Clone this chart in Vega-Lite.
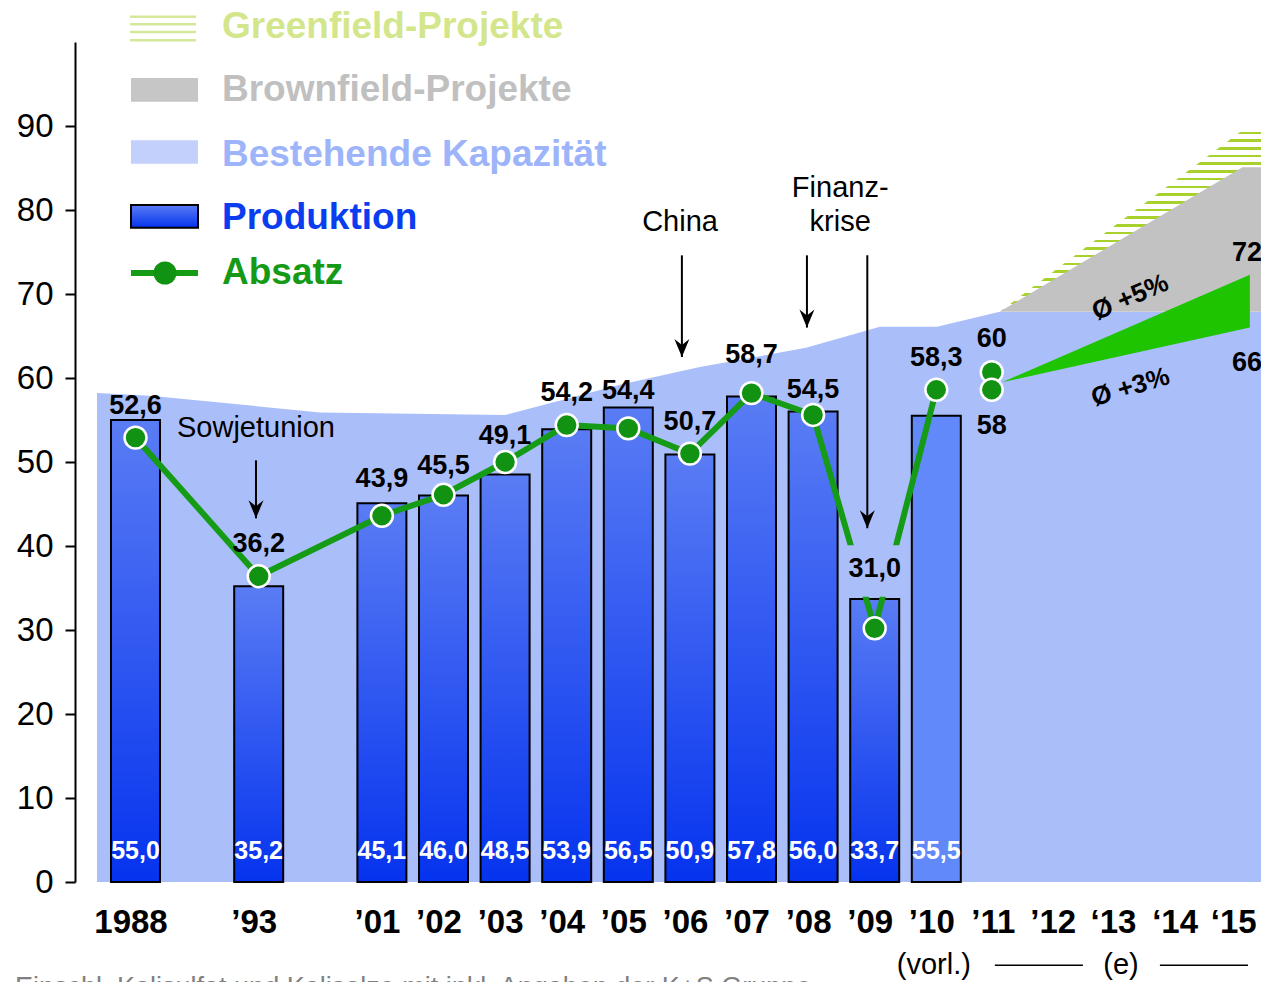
{
  "$schema": "https://vega.github.io/schema/vega-lite/v6.json",
  "autosize": {"type": "none"},
  "width": 1186,
  "height": 840,
  "padding": {"left": 75, "top": 42, "right": 0, "bottom": 100},
  "background": "white",
  "config": {"view": {"stroke": null}, "font": "Liberation Sans", "text": {"font": "Liberation Sans"}},
  "datasets": {
    "kapazitaet": [
      {"idx": -0.625, "kap": 58.2}, {"idx": 0.235, "kap": 57.9}, {"idx": 2.995, "kap": 55.9},
      {"idx": 6.0, "kap": 55.6}, {"idx": 7.865, "kap": 59.2}, {"idx": 9.16, "kap": 61.3},
      {"idx": 10.885, "kap": 63.6}, {"idx": 12.085, "kap": 66.1}, {"idx": 13.01, "kap": 66.1},
      {"idx": 14.03, "kap": 67.9}, {"idx": 18.5, "kap": 67.9}
    ],
    "ausbau": [
      {"idx": 14.03, "basis": 67.9, "brownfield": 67.9, "greenfield": 67.9},
      {"idx": 17.97, "basis": 67.9, "brownfield": 85.1, "greenfield": 89.5},
      {"idx": 18.5, "basis": 67.9, "brownfield": 85.1, "greenfield": 89.5}
    ],
    "jahre": [
      {"idx": 0, "jahr": "1988", "produktion": 55.0, "prodText": "55,0", "absatz": 52.6, "absText": "52,6", "punkt": 52.9},
      {"idx": 2, "jahr": "’93", "produktion": 35.2, "prodText": "35,2", "absatz": 36.2, "absText": "36,2", "punkt": 36.4},
      {"idx": 4, "jahr": "’01", "produktion": 45.1, "prodText": "45,1", "absatz": 43.9, "absText": "43,9", "punkt": 43.6},
      {"idx": 5, "jahr": "’02", "produktion": 46.0, "prodText": "46,0", "absatz": 45.5, "absText": "45,5", "punkt": 46.1},
      {"idx": 6, "jahr": "’03", "produktion": 48.5, "prodText": "48,5", "absatz": 49.1, "absText": "49,1", "punkt": 50.0},
      {"idx": 7, "jahr": "’04", "produktion": 53.9, "prodText": "53,9", "absatz": 54.2, "absText": "54,2", "punkt": 54.4},
      {"idx": 8, "jahr": "’05", "produktion": 56.5, "prodText": "56,5", "absatz": 54.4, "absText": "54,4", "punkt": 54.0},
      {"idx": 9, "jahr": "’06", "produktion": 50.9, "prodText": "50,9", "absatz": 50.7, "absText": "50,7", "punkt": 51.0},
      {"idx": 10, "jahr": "’07", "produktion": 57.8, "prodText": "57,8", "absatz": 58.7, "absText": "58,7", "punkt": 58.2},
      {"idx": 11, "jahr": "’08", "produktion": 56.0, "prodText": "56,0", "absatz": 54.5, "absText": "54,5", "punkt": 55.6},
      {"idx": 12, "jahr": "’09", "produktion": 33.7, "prodText": "33,7", "absatz": 31.0, "absText": "31,0", "punkt": 30.2},
      {"idx": 13, "jahr": "’10", "produktion": 55.5, "prodText": "55,5", "absatz": 58.3, "absText": "58,3", "punkt": 58.6}
    ],
    "prognose": [
      {"idx": 13.9, "jahr": "’11", "absatz": 60, "absText": "60", "punkt": 60.7},
      {"idx": 13.9, "jahr": "’11", "absatz": 58, "absText": "58", "punkt": 58.6}
    ],
    "trend": [
      {"idx": 14.07, "unten": 59.5, "oben": 59.5},
      {"idx": 18.09, "unten": 66.0, "oben": 72.3}
    ],
    "trendText": [
      {"idx": 17.8, "wert": 72, "text": "72"},
      {"idx": 17.8, "wert": 66, "text": "66"}
    ],
    "wachstum": [
      {"idx": 16.15, "y": 69.6, "text": "Ø +5%"},
      {"idx": 16.15, "y": 58.9, "text": "Ø +3%"}
    ],
    "pfeile": [
      {"idx": 1.956, "von": 50.2, "bis": 43.3},
      {"idx": 8.87, "von": 74.6, "bis": 62.5},
      {"idx": 10.9, "von": 74.6, "bis": 66.0},
      {"idx": 11.88, "von": 74.6, "bis": 42.1}
    ],
    "notizen": [
      {"idx": 1.956, "y": 54.0, "text": "Sowjetunion"},
      {"idx": 8.84, "y": 78.6, "text": "China"},
      {"idx": 11.44, "y": 82.6, "text": "Finanz-"},
      {"idx": 11.44, "y": 78.6, "text": "krise"},
      {"idx": 12.96, "y": -9.9, "text": "(vorl.)"},
      {"idx": 15.998, "y": -9.9, "text": "(e)"}
    ],
    "striche": [
      {"idx": 13.95, "idx2": 15.38, "y": -9.9},
      {"idx": 16.63, "idx2": 18.06, "y": -9.9}
    ],
    "box": [
      {"idx": 11.44, "unten": 33.95, "oben": 40.1},
      {"idx": 12.46, "unten": 33.95, "oben": 40.1}
    ],
    "legendeText": [
      {"eintrag": "Greenfield-Projekte", "idx": 1.404, "y": 101.8},
      {"eintrag": "Brownfield-Projekte", "idx": 1.404, "y": 94.3},
      {"eintrag": "Bestehende Kapazität", "idx": 1.404, "y": 86.5},
      {"eintrag": "Produktion", "idx": 1.404, "y": 79.0},
      {"eintrag": "Absatz", "idx": 1.404, "y": 72.5}
    ],
    "legendeFlaechen": [
      {"eintrag": "Brownfield-Projekte", "idx": -0.073, "idx2": 1.015, "unten": 92.9, "oben": 95.7},
      {"eintrag": "Bestehende Kapazität", "idx": -0.073, "idx2": 1.015, "unten": 85.5, "oben": 88.3},
      {"eintrag": "Produktion", "idx": -0.073, "idx2": 1.015, "unten": 77.9, "oben": 80.6}
    ],
    "legendeStreifen": [
      {"idx": -0.089, "idx2": 0.982, "y": 103.0},
      {"idx": -0.089, "idx2": 0.982, "y": 102.1},
      {"idx": -0.089, "idx2": 0.982, "y": 101.2},
      {"idx": -0.089, "idx2": 0.982, "y": 100.2}
    ],
    "legendeAbsatz": [{"idx": -0.073, "idx2": 1.015, "mitte": 0.479, "y": 72.5}],
    "quelle": [{"idx": -1.956, "y": -13.6, "text": "Einschl. Kalisulfat und Kalisalze mit  inkl. Angaben der K+S Gruppe"}]
  },
  "layer": [
    {
      "data": {"name": "kapazitaet"},
      "mark": {"type": "area", "fill": "#aabffa", "fillOpacity": 1, "opacity": 1},
      "encoding": {
        "x": {"field": "idx", "type": "quantitative", "scale": {"domain": [-0.982, 18.271], "nice": false, "zero": false, "padding": 0},
          "axis": {"values": [0, 2, 4, 5, 6, 7, 8, 9, 10, 11, 12, 13, 14, 14.97, 15.95, 16.95, 17.9],
            "labelExpr": "['1988','','’93','','’01','’02','’03','’04','’05','’06','’07','’08','’09','’10','’11','’12','‘13','‘14','‘15'][round(datum.value)]",
            "domain": false, "ticks": false, "grid": false, "title": null, "labelFont": "Liberation Sans",
            "labelFontSize": 33, "labelFontWeight": "bold", "labelColor": "#000", "labelPadding": 24,
            "labelOffset": -5, "labelFlush": false, "labelOverlap": false, "zindex": 1}},
        "y": {"field": "kap", "type": "quantitative", "scale": {"domain": [0, 100], "nice": false, "zero": false, "padding": 0},
          "axis": {"values": [0, 10, 20, 30, 40, 50, 60, 70, 80, 90], "grid": false, "title": null,
            "domainColor": "#000", "domainWidth": 2, "tickColor": "#000", "tickWidth": 2, "tickSize": 10,
            "labelFont": "Liberation Sans", "labelFontSize": 33, "labelColor": "#000", "labelPadding": 12, "zindex": 1}}
      }
    },
    {
      "data": {"name": "ausbau"},
      "mark": {"type": "area", "fill": {"gradient": "linear", "x1": 0, "y1": 0, "x2": 0, "y2": 1, "stops": [
        {"offset": 0, "color": "#ffffff"},
        {"offset": 0.008, "color": "#ffffff"}, {"offset": 0.008, "color": "#a9d12b"}, {"offset": 0.0217, "color": "#a9d12b"}, {"offset": 0.0217, "color": "#ffffff"},
        {"offset": 0.0504, "color": "#ffffff"}, {"offset": 0.0504, "color": "#a9d12b"}, {"offset": 0.0642, "color": "#a9d12b"}, {"offset": 0.0642, "color": "#ffffff"},
        {"offset": 0.0929, "color": "#ffffff"}, {"offset": 0.0929, "color": "#a9d12b"}, {"offset": 0.1066, "color": "#a9d12b"}, {"offset": 0.1066, "color": "#ffffff"},
        {"offset": 0.1354, "color": "#ffffff"}, {"offset": 0.1354, "color": "#a9d12b"}, {"offset": 0.1491, "color": "#a9d12b"}, {"offset": 0.1491, "color": "#ffffff"},
        {"offset": 0.1779, "color": "#ffffff"}, {"offset": 0.1779, "color": "#a9d12b"}, {"offset": 0.1916, "color": "#a9d12b"}, {"offset": 0.1916, "color": "#ffffff"},
        {"offset": 0.2203, "color": "#ffffff"}, {"offset": 0.2203, "color": "#a9d12b"}, {"offset": 0.2341, "color": "#a9d12b"}, {"offset": 0.2341, "color": "#ffffff"},
        {"offset": 0.2628, "color": "#ffffff"}, {"offset": 0.2628, "color": "#a9d12b"}, {"offset": 0.2765, "color": "#a9d12b"}, {"offset": 0.2765, "color": "#ffffff"},
        {"offset": 0.3053, "color": "#ffffff"}, {"offset": 0.3053, "color": "#a9d12b"}, {"offset": 0.319, "color": "#a9d12b"}, {"offset": 0.319, "color": "#ffffff"},
        {"offset": 0.3477, "color": "#ffffff"}, {"offset": 0.3477, "color": "#a9d12b"}, {"offset": 0.3615, "color": "#a9d12b"}, {"offset": 0.3615, "color": "#ffffff"},
        {"offset": 0.3902, "color": "#ffffff"}, {"offset": 0.3902, "color": "#a9d12b"}, {"offset": 0.404, "color": "#a9d12b"}, {"offset": 0.404, "color": "#ffffff"},
        {"offset": 0.4327, "color": "#ffffff"}, {"offset": 0.4327, "color": "#a9d12b"}, {"offset": 0.4464, "color": "#a9d12b"}, {"offset": 0.4464, "color": "#ffffff"},
        {"offset": 0.4752, "color": "#ffffff"}, {"offset": 0.4752, "color": "#a9d12b"}, {"offset": 0.4889, "color": "#a9d12b"}, {"offset": 0.4889, "color": "#ffffff"},
        {"offset": 0.5176, "color": "#ffffff"}, {"offset": 0.5176, "color": "#a9d12b"}, {"offset": 0.5314, "color": "#a9d12b"}, {"offset": 0.5314, "color": "#ffffff"},
        {"offset": 0.5601, "color": "#ffffff"}, {"offset": 0.5601, "color": "#a9d12b"}, {"offset": 0.5738, "color": "#a9d12b"}, {"offset": 0.5738, "color": "#ffffff"},
        {"offset": 0.6026, "color": "#ffffff"}, {"offset": 0.6026, "color": "#a9d12b"}, {"offset": 0.6163, "color": "#a9d12b"}, {"offset": 0.6163, "color": "#ffffff"},
        {"offset": 0.6451, "color": "#ffffff"}, {"offset": 0.6451, "color": "#a9d12b"}, {"offset": 0.6588, "color": "#a9d12b"}, {"offset": 0.6588, "color": "#ffffff"},
        {"offset": 0.6875, "color": "#ffffff"}, {"offset": 0.6875, "color": "#a9d12b"}, {"offset": 0.7013, "color": "#a9d12b"}, {"offset": 0.7013, "color": "#ffffff"},
        {"offset": 0.73, "color": "#ffffff"}, {"offset": 0.73, "color": "#a9d12b"}, {"offset": 0.7437, "color": "#a9d12b"}, {"offset": 0.7437, "color": "#ffffff"},
        {"offset": 0.7725, "color": "#ffffff"}, {"offset": 0.7725, "color": "#a9d12b"}, {"offset": 0.7862, "color": "#a9d12b"}, {"offset": 0.7862, "color": "#ffffff"},
        {"offset": 0.8149, "color": "#ffffff"}, {"offset": 0.8149, "color": "#a9d12b"}, {"offset": 0.8287, "color": "#a9d12b"}, {"offset": 0.8287, "color": "#ffffff"},
        {"offset": 0.8574, "color": "#ffffff"}, {"offset": 0.8574, "color": "#a9d12b"}, {"offset": 0.8712, "color": "#a9d12b"}, {"offset": 0.8712, "color": "#ffffff"},
        {"offset": 0.8999, "color": "#ffffff"}, {"offset": 0.8999, "color": "#a9d12b"}, {"offset": 0.9136, "color": "#a9d12b"}, {"offset": 0.9136, "color": "#ffffff"},
        {"offset": 0.9424, "color": "#ffffff"}, {"offset": 0.9424, "color": "#a9d12b"}, {"offset": 0.9561, "color": "#a9d12b"}, {"offset": 0.9561, "color": "#ffffff"},
        {"offset": 0.9848, "color": "#ffffff"}, {"offset": 0.9848, "color": "#a9d12b"}, {"offset": 0.9986, "color": "#a9d12b"}, {"offset": 0.9986, "color": "#ffffff"},
        {"offset": 1, "color": "#ffffff"}
      ]}},
      "encoding": {
        "x": {"field": "idx", "type": "quantitative", "scale": {"domain": [-0.982, 18.271], "nice": false, "zero": false, "padding": 0}, "axis": {"title": null}},
        "y": {"field": "basis", "type": "quantitative", "scale": {"domain": [0, 100], "nice": false, "zero": false, "padding": 0}, "axis": {"title": null}},
        "y2": {"field": "greenfield"}
      }
    },
    {
      "data": {"name": "ausbau"},
      "mark": {"type": "area", "fill": "#c2c2c2", "fillOpacity": 1, "opacity": 1},
      "encoding": {
        "x": {"field": "idx", "type": "quantitative", "scale": {"domain": [-0.982, 18.271], "nice": false, "zero": false, "padding": 0}, "axis": {"title": null}},
        "y": {"field": "basis", "type": "quantitative", "scale": {"domain": [0, 100], "nice": false, "zero": false, "padding": 0}, "axis": {"title": null}},
        "y2": {"field": "brownfield"}
      }
    },
    {
      "data": {"name": "trend"},
      "mark": {"type": "area", "fill": "#1ec400", "fillOpacity": 1, "opacity": 1},
      "encoding": {
        "x": {"field": "idx", "type": "quantitative", "scale": {"domain": [-0.982, 18.271], "nice": false, "zero": false, "padding": 0}, "axis": {"title": null}},
        "y": {"field": "unten", "type": "quantitative", "scale": {"domain": [0, 100], "nice": false, "zero": false, "padding": 0}, "axis": {"title": null}},
        "y2": {"field": "oben"}
      }
    },
    {
      "data": {"name": "jahre"},
      "transform": [{"filter": "datum.idx < 13"}],
      "mark": {"type": "bar", "orient": "vertical", "size": 49, "stroke": "#000", "strokeWidth": 2,
        "fill": {"gradient": "linear", "x1": 0, "y1": 0, "x2": 0, "y2": 1, "stops": [{"offset": 0, "color": "#5a7cf4"}, {"offset": 1, "color": "#0533ee"}]}},
      "encoding": {
        "x": {"field": "idx", "type": "quantitative", "scale": {"domain": [-0.982, 18.271], "nice": false, "zero": false, "padding": 0}, "axis": {"title": null}},
        "y": {"field": "produktion", "type": "quantitative", "scale": {"domain": [0, 100], "nice": false, "zero": false, "padding": 0}, "axis": {"title": null}}
      }
    },
    {
      "data": {"name": "jahre"},
      "transform": [{"filter": "datum.idx == 13"}],
      "mark": {"type": "bar", "orient": "vertical", "size": 49, "stroke": "#000", "strokeWidth": 2, "fill": "#6189fa"},
      "encoding": {
        "x": {"field": "idx", "type": "quantitative", "scale": {"domain": [-0.982, 18.271], "nice": false, "zero": false, "padding": 0}, "axis": {"title": null}},
        "y": {"field": "produktion", "type": "quantitative", "scale": {"domain": [0, 100], "nice": false, "zero": false, "padding": 0}, "axis": {"title": null}}
      }
    },
    {
      "data": {"name": "jahre"},
      "mark": {"type": "line", "color": "#159b15", "strokeWidth": 6},
      "encoding": {
        "x": {"field": "idx", "type": "quantitative", "scale": {"domain": [-0.982, 18.271], "nice": false, "zero": false, "padding": 0}, "axis": {"title": null}},
        "y": {"field": "punkt", "type": "quantitative", "scale": {"domain": [0, 100], "nice": false, "zero": false, "padding": 0}, "axis": {"title": null}}
      }
    },
    {
      "data": {"name": "box"},
      "mark": {"type": "area", "fill": "#aabffa", "fillOpacity": 1, "opacity": 1},
      "encoding": {
        "x": {"field": "idx", "type": "quantitative", "scale": {"domain": [-0.982, 18.271], "nice": false, "zero": false, "padding": 0}, "axis": {"title": null}},
        "y": {"field": "unten", "type": "quantitative", "scale": {"domain": [0, 100], "nice": false, "zero": false, "padding": 0}, "axis": {"title": null}},
        "y2": {"field": "oben"}
      }
    },
    {
      "data": {"name": "jahre"},
      "mark": {"type": "point", "filled": true, "fill": "#129212", "stroke": "#ffffff", "strokeWidth": 2.5, "size": 480, "opacity": 1},
      "encoding": {
        "x": {"field": "idx", "type": "quantitative", "scale": {"domain": [-0.982, 18.271], "nice": false, "zero": false, "padding": 0}, "axis": {"title": null}},
        "y": {"field": "punkt", "type": "quantitative", "scale": {"domain": [0, 100], "nice": false, "zero": false, "padding": 0}, "axis": {"title": null}}
      }
    },
    {
      "data": {"name": "prognose"},
      "mark": {"type": "point", "filled": true, "fill": "#129212", "stroke": "#ffffff", "strokeWidth": 2.5, "size": 480, "opacity": 1},
      "encoding": {
        "x": {"field": "idx", "type": "quantitative", "scale": {"domain": [-0.982, 18.271], "nice": false, "zero": false, "padding": 0}, "axis": {"title": null}},
        "y": {"field": "punkt", "type": "quantitative", "scale": {"domain": [0, 100], "nice": false, "zero": false, "padding": 0}, "axis": {"title": null}}
      }
    },
    {
      "data": {"name": "jahre"},
      "mark": {"type": "text", "color": "#ffffff", "fontSize": 25, "fontWeight": "bold", "align": "center", "baseline": "middle"},
      "encoding": {
        "x": {"field": "idx", "type": "quantitative", "scale": {"domain": [-0.982, 18.271], "nice": false, "zero": false, "padding": 0}, "axis": {"title": null}},
        "y": {"datum": 3.69, "type": "quantitative", "scale": {"domain": [0, 100], "nice": false, "zero": false, "padding": 0}, "axis": {"title": null}},
        "text": {"field": "prodText"}
      }
    },
    {
      "data": {"name": "jahre"},
      "transform": [{"filter": "datum.idx != 12"}],
      "mark": {"type": "text", "color": "#000", "fontSize": 27, "fontWeight": "bold", "align": "center", "baseline": "middle", "dy": -34},
      "encoding": {
        "x": {"field": "idx", "type": "quantitative", "scale": {"domain": [-0.982, 18.271], "nice": false, "zero": false, "padding": 0}, "axis": {"title": null}},
        "y": {"field": "absatz", "type": "quantitative", "scale": {"domain": [0, 100], "nice": false, "zero": false, "padding": 0}, "axis": {"title": null}},
        "text": {"field": "absText"}
      }
    },
    {
      "data": {"name": "jahre"},
      "transform": [{"filter": "datum.idx == 12"}],
      "mark": {"type": "text", "color": "#000", "fontSize": 27, "fontWeight": "bold", "align": "center", "baseline": "middle", "dy": -53},
      "encoding": {
        "x": {"field": "idx", "type": "quantitative", "scale": {"domain": [-0.982, 18.271], "nice": false, "zero": false, "padding": 0}, "axis": {"title": null}},
        "y": {"field": "absatz", "type": "quantitative", "scale": {"domain": [0, 100], "nice": false, "zero": false, "padding": 0}, "axis": {"title": null}},
        "text": {"field": "absText"}
      }
    },
    {
      "data": {"name": "prognose"},
      "transform": [{"filter": "datum.absatz == 60"}],
      "mark": {"type": "text", "color": "#000", "fontSize": 27, "fontWeight": "bold", "align": "center", "baseline": "middle", "dy": -39},
      "encoding": {
        "x": {"field": "idx", "type": "quantitative", "scale": {"domain": [-0.982, 18.271], "nice": false, "zero": false, "padding": 0}, "axis": {"title": null}},
        "y": {"field": "absatz", "type": "quantitative", "scale": {"domain": [0, 100], "nice": false, "zero": false, "padding": 0}, "axis": {"title": null}},
        "text": {"field": "absText"}
      }
    },
    {
      "data": {"name": "prognose"},
      "transform": [{"filter": "datum.absatz == 58"}],
      "mark": {"type": "text", "color": "#000", "fontSize": 27, "fontWeight": "bold", "align": "center", "baseline": "middle", "dy": 31},
      "encoding": {
        "x": {"field": "idx", "type": "quantitative", "scale": {"domain": [-0.982, 18.271], "nice": false, "zero": false, "padding": 0}, "axis": {"title": null}},
        "y": {"field": "absatz", "type": "quantitative", "scale": {"domain": [0, 100], "nice": false, "zero": false, "padding": 0}, "axis": {"title": null}},
        "text": {"field": "absText"}
      }
    },
    {
      "data": {"name": "trendText"},
      "transform": [{"filter": "datum.wert == 72"}],
      "mark": {"type": "text", "color": "#000", "fontSize": 27, "fontWeight": "bold", "align": "left", "baseline": "middle", "dy": -24},
      "encoding": {
        "x": {"field": "idx", "type": "quantitative", "scale": {"domain": [-0.982, 18.271], "nice": false, "zero": false, "padding": 0}, "axis": {"title": null}},
        "y": {"field": "wert", "type": "quantitative", "scale": {"domain": [0, 100], "nice": false, "zero": false, "padding": 0}, "axis": {"title": null}},
        "text": {"field": "text"}
      }
    },
    {
      "data": {"name": "trendText"},
      "transform": [{"filter": "datum.wert == 66"}],
      "mark": {"type": "text", "color": "#000", "fontSize": 27, "fontWeight": "bold", "align": "left", "baseline": "middle", "dy": 35},
      "encoding": {
        "x": {"field": "idx", "type": "quantitative", "scale": {"domain": [-0.982, 18.271], "nice": false, "zero": false, "padding": 0}, "axis": {"title": null}},
        "y": {"field": "wert", "type": "quantitative", "scale": {"domain": [0, 100], "nice": false, "zero": false, "padding": 0}, "axis": {"title": null}},
        "text": {"field": "text"}
      }
    },
    {
      "data": {"name": "wachstum"},
      "transform": [{"filter": "datum.text == 'Ø +5%'"}],
      "mark": {"type": "text", "color": "#000", "fontSize": 26, "fontWeight": "bold", "align": "center", "baseline": "middle", "angle": 337},
      "encoding": {
        "x": {"field": "idx", "type": "quantitative", "scale": {"domain": [-0.982, 18.271], "nice": false, "zero": false, "padding": 0}, "axis": {"title": null}},
        "y": {"field": "y", "type": "quantitative", "scale": {"domain": [0, 100], "nice": false, "zero": false, "padding": 0}, "axis": {"title": null}},
        "text": {"field": "text"}
      }
    },
    {
      "data": {"name": "wachstum"},
      "transform": [{"filter": "datum.text == 'Ø +3%'"}],
      "mark": {"type": "text", "color": "#000", "fontSize": 26, "fontWeight": "bold", "align": "center", "baseline": "middle", "angle": 343.5},
      "encoding": {
        "x": {"field": "idx", "type": "quantitative", "scale": {"domain": [-0.982, 18.271], "nice": false, "zero": false, "padding": 0}, "axis": {"title": null}},
        "y": {"field": "y", "type": "quantitative", "scale": {"domain": [0, 100], "nice": false, "zero": false, "padding": 0}, "axis": {"title": null}},
        "text": {"field": "text"}
      }
    },
    {
      "data": {"name": "pfeile"},
      "mark": {"type": "rule", "color": "#000", "strokeWidth": 2},
      "encoding": {
        "x": {"field": "idx", "type": "quantitative", "scale": {"domain": [-0.982, 18.271], "nice": false, "zero": false, "padding": 0}, "axis": {"title": null}},
        "y": {"field": "von", "type": "quantitative", "scale": {"domain": [0, 100], "nice": false, "zero": false, "padding": 0}, "axis": {"title": null}},
        "y2": {"field": "bis"}
      }
    },
    {
      "data": {"name": "pfeile"},
      "mark": {"type": "point", "shape": "M0,0 L-0.75,-1.8 L0,-1.2 L0.75,-1.8 Z", "filled": true, "color": "#000", "size": 400, "opacity": 1},
      "encoding": {
        "x": {"field": "idx", "type": "quantitative", "scale": {"domain": [-0.982, 18.271], "nice": false, "zero": false, "padding": 0}, "axis": {"title": null}},
        "y": {"field": "bis", "type": "quantitative", "scale": {"domain": [0, 100], "nice": false, "zero": false, "padding": 0}, "axis": {"title": null}}
      }
    },
    {
      "data": {"name": "notizen"},
      "mark": {"type": "text", "color": "#000", "fontSize": 29, "align": "center", "baseline": "middle"},
      "encoding": {
        "x": {"field": "idx", "type": "quantitative", "scale": {"domain": [-0.982, 18.271], "nice": false, "zero": false, "padding": 0}, "axis": {"title": null}},
        "y": {"field": "y", "type": "quantitative", "scale": {"domain": [0, 100], "nice": false, "zero": false, "padding": 0}, "axis": {"title": null}},
        "text": {"field": "text"}
      }
    },
    {
      "data": {"name": "striche"},
      "mark": {"type": "rule", "color": "#000", "strokeWidth": 1.5},
      "encoding": {
        "x": {"field": "idx", "type": "quantitative", "scale": {"domain": [-0.982, 18.271], "nice": false, "zero": false, "padding": 0}, "axis": {"title": null}},
        "x2": {"field": "idx2"},
        "y": {"field": "y", "type": "quantitative", "scale": {"domain": [0, 100], "nice": false, "zero": false, "padding": 0}, "axis": {"title": null}}
      }
    },
    {
      "data": {"name": "legendeStreifen"},
      "mark": {"type": "rule", "color": "#d4e79a", "strokeWidth": 2.5},
      "encoding": {
        "x": {"field": "idx", "type": "quantitative", "scale": {"domain": [-0.982, 18.271], "nice": false, "zero": false, "padding": 0}, "axis": {"title": null}},
        "x2": {"field": "idx2"},
        "y": {"field": "y", "type": "quantitative", "scale": {"domain": [0, 100], "nice": false, "zero": false, "padding": 0}, "axis": {"title": null}}
      }
    },
    {
      "data": {"name": "legendeFlaechen"},
      "transform": [{"filter": "datum.eintrag != 'Produktion'"}],
      "mark": {"type": "rect", "opacity": 1},
      "encoding": {
        "x": {"field": "idx", "type": "quantitative", "scale": {"domain": [-0.982, 18.271], "nice": false, "zero": false, "padding": 0}, "axis": {"title": null}},
        "x2": {"field": "idx2"},
        "y": {"field": "unten", "type": "quantitative", "scale": {"domain": [0, 100], "nice": false, "zero": false, "padding": 0}, "axis": {"title": null}},
        "y2": {"field": "oben"},
        "fill": {"field": "eintrag", "type": "nominal", "scale": {"domain": ["Brownfield-Projekte", "Bestehende Kapazität"], "range": ["#c6c6c6", "#c2d0fb"]}, "legend": null}
      }
    },
    {
      "data": {"name": "legendeFlaechen"},
      "transform": [{"filter": "datum.eintrag == 'Produktion'"}],
      "mark": {"type": "rect", "stroke": "#000", "strokeWidth": 2,
        "fill": {"gradient": "linear", "x1": 0, "y1": 0, "x2": 0, "y2": 1, "stops": [{"offset": 0, "color": "#5a7cf4"}, {"offset": 1, "color": "#0533ee"}]}},
      "encoding": {
        "x": {"field": "idx", "type": "quantitative", "scale": {"domain": [-0.982, 18.271], "nice": false, "zero": false, "padding": 0}, "axis": {"title": null}},
        "x2": {"field": "idx2"},
        "y": {"field": "unten", "type": "quantitative", "scale": {"domain": [0, 100], "nice": false, "zero": false, "padding": 0}, "axis": {"title": null}},
        "y2": {"field": "oben"}
      }
    },
    {
      "data": {"name": "legendeAbsatz"},
      "mark": {"type": "rule", "color": "#159b15", "strokeWidth": 6},
      "encoding": {
        "x": {"field": "idx", "type": "quantitative", "scale": {"domain": [-0.982, 18.271], "nice": false, "zero": false, "padding": 0}, "axis": {"title": null}},
        "x2": {"field": "idx2"},
        "y": {"field": "y", "type": "quantitative", "scale": {"domain": [0, 100], "nice": false, "zero": false, "padding": 0}, "axis": {"title": null}}
      }
    },
    {
      "data": {"name": "legendeAbsatz"},
      "mark": {"type": "point", "filled": true, "color": "#129212", "size": 530, "opacity": 1},
      "encoding": {
        "x": {"field": "mitte", "type": "quantitative", "scale": {"domain": [-0.982, 18.271], "nice": false, "zero": false, "padding": 0}, "axis": {"title": null}},
        "y": {"field": "y", "type": "quantitative", "scale": {"domain": [0, 100], "nice": false, "zero": false, "padding": 0}, "axis": {"title": null}}
      }
    },
    {
      "data": {"name": "legendeText"},
      "mark": {"type": "text", "fontSize": 37, "fontWeight": "bold", "align": "left", "baseline": "middle"},
      "encoding": {
        "x": {"field": "idx", "type": "quantitative", "scale": {"domain": [-0.982, 18.271], "nice": false, "zero": false, "padding": 0}, "axis": {"title": null}},
        "y": {"field": "y", "type": "quantitative", "scale": {"domain": [0, 100], "nice": false, "zero": false, "padding": 0}, "axis": {"title": null}},
        "text": {"field": "eintrag"},
        "color": {"field": "eintrag", "type": "nominal", "scale": {"domain": ["Greenfield-Projekte", "Brownfield-Projekte", "Bestehende Kapazität", "Produktion", "Absatz"], "range": ["#d3e68c", "#c0c0c0", "#9db4fa", "#0a3cf0", "#169a16"]}, "legend": null}
      }
    },
    {
      "data": {"name": "quelle"},
      "mark": {"type": "text", "color": "#808080", "fontSize": 27, "align": "left", "baseline": "alphabetic"},
      "encoding": {
        "x": {"field": "idx", "type": "quantitative", "scale": {"domain": [-0.982, 18.271], "nice": false, "zero": false, "padding": 0}, "axis": {"title": null}},
        "y": {"field": "y", "type": "quantitative", "scale": {"domain": [0, 100], "nice": false, "zero": false, "padding": 0}, "axis": {"title": null}},
        "text": {"field": "text"}
      }
    }
  ]
}
